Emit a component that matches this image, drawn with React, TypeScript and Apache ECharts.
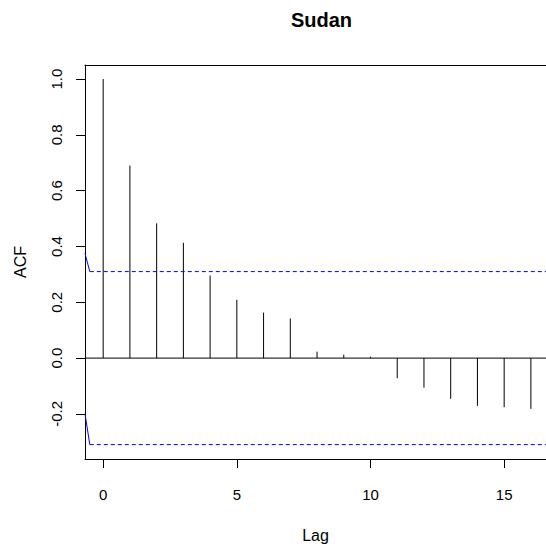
import React, { useEffect, useRef } from "react";
import * as echarts from "echarts";

const chartTitle = "Sudan";
const lags = [0, 1, 2, 3, 4, 5, 6, 7, 8, 9, 10, 11, 12, 13, 14, 15, 16];
const acfValues = [
  1.0, 0.69, 0.483, 0.413, 0.296, 0.209, 0.163, 0.142, 0.023, 0.012, 0.005,
  -0.072, -0.106, -0.146, -0.171, -0.176, -0.182,
];
const ciUpper = 0.31;
const ciLower = -0.31;
const ciUpperStart = 0.375;
const ciLowerStart = -0.2;
const xMin = -0.68;
const xMax = 16.565;
const ciKnee = -0.5;
const yMin = -0.3616;
const yMax = 1.0504;
const xTicks = [0, 5, 10, 15];
const yTicks = [-0.2, 0, 0.2, 0.4, 0.6, 0.8, 1.0];

const FONT = "'Liberation Sans', Arial, Helvetica, sans-serif";

export default function App() {
  const ref = useRef<HTMLDivElement>(null);
  useEffect(() => {
    if (!ref.current) return;
    const chart = echarts.init(ref.current, undefined, { renderer: "svg" });
    const spikeData = lags.map((l, i) => [l, acfValues[i]]);
    chart.setOption({
      animation: false,
      backgroundColor: "#ffffff",
      textStyle: { fontFamily: FONT },
      title: {
        text: chartTitle,
        left: 316.5,
        textAlign: "center",
        top: 5,
        textStyle: { fontFamily: FONT, fontSize: 20, fontWeight: "bold", color: "#000" },
      },
      grid: {
        left: 85,
        top: 65,
        width: 461,
        height: 401,
        show: false,
      },
      xAxis: [
        {
          type: "value",
          min: xMin,
          max: xMax,
          position: "bottom",
          name: "Lag",
          nameLocation: "middle",
          nameGap: 68,
          nameTextStyle: { fontFamily: FONT, fontSize: 16, color: "#000" },
          axisLine: { show: true, onZero: false, lineStyle: { color: "#000", width: 1 } },
          splitLine: { show: false },
          axisTick: {
            show: true,
            inside: false,
            length: 9,
            customValues: xTicks,
            lineStyle: { color: "#000", width: 1 },
          },
          axisLabel: {
            customValues: xTicks,
            margin: 28,
            fontFamily: FONT,
            fontSize: 15,
            color: "#000",
          },
        },
        {
          type: "value",
          min: xMin,
          max: xMax,
          position: "top",
          axisLine: { show: true, onZero: false, lineStyle: { color: "#000", width: 1 } },
          splitLine: { show: false },
          axisTick: { show: false },
          axisLabel: { show: false },
        },
      ],
      yAxis: {
        type: "value",
        min: yMin,
        max: yMax,
        name: "ACF",
        nameLocation: "middle",
        nameRotate: 90,
        nameGap: 57,
        nameTextStyle: { fontFamily: FONT, fontSize: 16, color: "#000" },
        axisLine: { show: true, onZero: false, lineStyle: { color: "#000", width: 1 } },
        splitLine: { show: false },
        axisTick: {
          show: true,
          inside: false,
          length: 9,
          customValues: yTicks,
          lineStyle: { color: "#000", width: 1 },
        },
        axisLabel: {
          customValues: yTicks,
          rotate: 90,
          margin: 21,
          fontFamily: FONT,
          fontSize: 15,
          color: "#000",
          formatter: (v: number) => v.toFixed(1),
        },
      },
      series: [
        {
          type: "line",
          data: [
            [xMin, 0],
            [xMax, 0],
          ],
          symbol: "none",
          lineStyle: { color: "#000", width: 1 },
          silent: true,
        },
        {
          type: "custom",
          data: spikeData,
          renderItem: (params: any, api: any) => {
            const p0 = api.coord([api.value(0), 0]);
            const p1 = api.coord([api.value(0), api.value(1)]);
            return {
              type: "line",
              shape: { x1: p0[0], y1: p0[1], x2: p1[0], y2: p1[1] },
              style: { stroke: "#000", lineWidth: 1 },
            };
          },
        },
        {
          type: "line",
          data: [
            [xMin, ciUpperStart],
            [ciKnee, ciUpper],
          ],
          symbol: "none",
          lineStyle: { color: "#0000ff", width: 1 },
        },
        {
          type: "line",
          data: [
            [ciKnee, ciUpper],
            [xMax, ciUpper],
          ],
          symbol: "none",
          lineStyle: { color: "#0000ff", width: 1, type: [4, 3] },
        },
        {
          type: "line",
          data: [
            [xMin, ciLowerStart],
            [ciKnee, ciLower],
          ],
          symbol: "none",
          lineStyle: { color: "#0000ff", width: 1 },
        },
        {
          type: "line",
          data: [
            [ciKnee, ciLower],
            [xMax, ciLower],
          ],
          symbol: "none",
          lineStyle: { color: "#0000ff", width: 1, type: [4, 3] },
        },
      ],
    });
    return () => chart.dispose();
  }, []);
  return (
    <div
      ref={ref}
      style={{
        position: "fixed",
        left: 0,
        top: 0,
        width: 546,
        height: 548,
        overflow: "hidden",
      }}
    />
  );
}
